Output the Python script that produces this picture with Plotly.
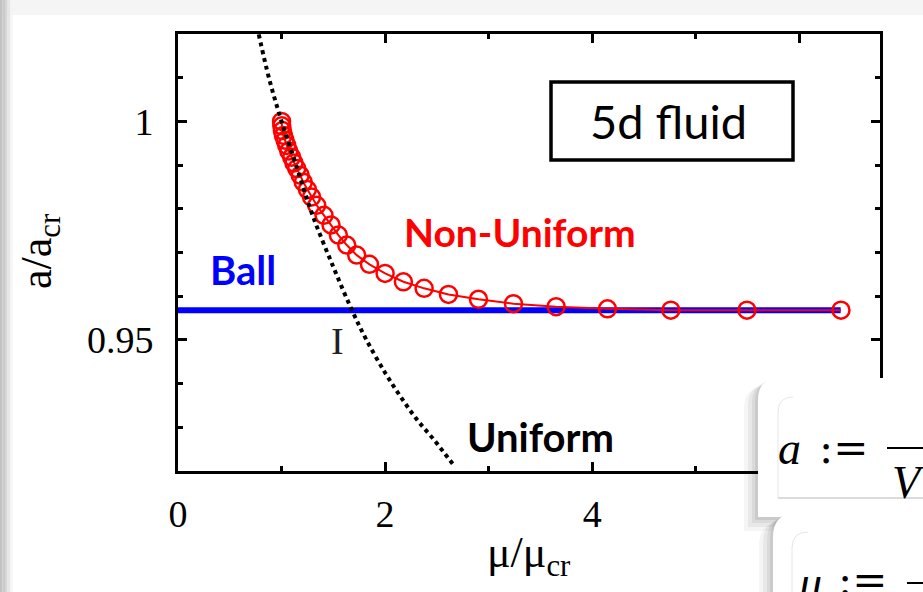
import plotly.graph_objects as go

# ---------------- data ----------------
mu_nonuniform = [1.000, 1.002, 1.008, 1.018, 1.034, 1.050, 1.070, 1.098, 1.120, 1.147,
                 1.180, 1.210, 1.250, 1.290, 1.340, 1.410, 1.478, 1.549, 1.630, 1.726,
                 1.849, 2.000, 2.177, 2.377, 2.612, 2.902, 3.240, 3.652, 4.148, 4.760,
                 5.495, 6.403]
a_nonuniform = [1.0000, 0.9990, 0.9979, 0.9968, 0.9957, 0.9945, 0.9932, 0.9918, 0.9905, 0.9892,
                0.9877, 0.9861, 0.9844, 0.9827, 0.9808, 0.9785, 0.9763, 0.9740, 0.9717, 0.9694,
                0.9673, 0.9652, 0.9633, 0.9618, 0.9604, 0.9593, 0.9583, 0.9576, 0.9571, 0.9568,
                0.9568, 0.9568]

mu_uniform = [0.78, 0.88, 1.00, 1.15, 1.30, 1.50, 1.68, 1.82, 2.00, 2.15, 2.30, 2.47, 2.67]
a_uniform = [1.0199, 1.0098, 1.0000, 0.9893, 0.9785, 0.9667, 0.9568, 0.9500, 0.9425, 0.9370,
             0.9320, 0.9272, 0.9211]

mu_ball = [0.0, 6.4]
a_ball = [0.9568, 0.9568]

x_tick_vals = [0, 2, 4, 6]
x_tick_text = ["0", "2", "4", "6"]
x_minor_vals = [1, 3, 5]
y_tick_vals = [0.95, 1.0]
y_tick_text = ["0.95", "1"]
y_minor_vals = [0.92, 0.93, 0.94, 0.96, 0.97, 0.98, 0.99, 1.01, 1.02]

# ---------------- geometry helpers (pixel -> paper) ----------------
W, H = 923, 592
L, R, T, B = 178, 880, 34, 471


def fx(p):
    return (p - L) / (R - L)


def fy(p):
    return (B - p) / (B - T)


SERIF = "Liberation Serif, Times New Roman, serif"
MATH = "DejaVu Serif, serif"
SANS = "Lato, Open Sans, sans-serif"

fig = go.Figure()

fig.add_trace(go.Scatter(x=mu_ball, y=a_ball, mode="lines",
                         line=dict(color="#0000ff", width=6), showlegend=False,
                         name="Ball"))
fig.add_trace(go.Scatter(x=mu_nonuniform, y=a_nonuniform, mode="lines+markers",
                         line=dict(color="#ff0000", width=2),
                         marker=dict(symbol="circle-open", size=17, color="#ff0000",
                                     line=dict(width=2.5, color="#ff0000")),
                         showlegend=False, name="Non-Uniform"))
fig.add_trace(go.Scatter(x=mu_uniform, y=a_uniform, mode="lines",
                         line=dict(color="black", width=4, dash="4px,4px", shape="spline"),
                         showlegend=False, name="Uniform"))

axis_common = dict(showline=True, linewidth=3, linecolor="black", mirror="ticks",
                   ticks="inside", ticklen=9, tickwidth=3, tickcolor="black",
                   showgrid=False, zeroline=False,
                   tickfont=dict(family=SERIF, size=38, color="black"))

fig.update_xaxes(range=[0, 6.78], tickmode="array", tickvals=x_tick_vals,
                 ticktext=x_tick_text, ticklabelstandoff=7,
                 minor=dict(tickmode="array", tickvals=x_minor_vals, ticks="inside",
                            ticklen=5, tickwidth=3, tickcolor="black"),
                 **axis_common)
fig.update_yaxes(range=[0.92, 1.02], tickmode="array", tickvals=y_tick_vals,
                 ticktext=y_tick_text, ticklabelstandoff=14,
                 minor=dict(tickmode="array", tickvals=y_minor_vals, ticks="inside",
                            ticklen=5, tickwidth=3, tickcolor="black"),
                 **axis_common)

shapes = []
# slide shadow (top and left)
top_cols = ["#bdbdbd", "#c9c9c9", "#d8d8d8", "#e8e8e8", "#f5f5f5"]
for i, col in enumerate(top_cols):
    shapes.append(dict(type="rect", xref="paper", yref="paper", layer="below",
                       x0=fx(0), x1=fx(W), y0=fy(0), y1=fy(3 * (i + 1)),
                       line=dict(width=0), fillcolor=col))
left_cols = ["#c2c2c2", "#cacaca", "#d6d6d6", "#e6e6e6", "#f4f4f4"]
for i, col in enumerate(left_cols):
    shapes.append(dict(type="rect", xref="paper", yref="paper", layer="below",
                       x0=fx(2.5 * i), x1=fx(2.5 * (i + 1)), y0=fy(0), y1=fy(H),
                       line=dict(width=0), fillcolor=col))

# "5d fluid" box
shapes.append(dict(type="rect", xref="paper", yref="paper", layer="above",
                   x0=fx(551), x1=fx(793), y0=fy(82), y1=fy(160),
                   line=dict(color="black", width=3.5), fillcolor="white"))


def rounded_box(x0, y0, x1, y1, r):
    return (f"M {fx(x0)},{fy(y1)} L {fx(x0)},{fy(y0 + r)} "
            f"Q {fx(x0)},{fy(y0)} {fx(x0 + r)},{fy(y0)} "
            f"L {fx(x1)},{fy(y0)} L {fx(x1)},{fy(y1)} Z")


# overlapping formula boxes (bottom right)
for off, a in [(14, 0.04), (10, 0.05), (6, 0.06), (3, 0.07)]:
    shapes.append(dict(type="path", xref="paper", yref="paper", layer="above",
                       path=rounded_box(758 - off, 378 + off * 0.6, 940, 517 + off, 22),
                       line=dict(width=0), fillcolor=f"rgba(0,0,0,{a})"))
shapes.append(dict(type="path", xref="paper", yref="paper", layer="above",
                   path=rounded_box(758, 378, 940, 517, 22),
                   line=dict(width=0), fillcolor="white"))
shapes.append(dict(type="path", xref="paper", yref="paper", layer="above",
                   path=(f"M {fx(778)},{fy(498)} L {fx(778)},{fy(412)} "
                         f"Q {fx(778)},{fy(397)} {fx(793)},{fy(397)}"),
                   line=dict(width=1, color="#e6e6e6")))
shapes.append(dict(type="line", xref="paper", yref="paper", layer="above",
                   x0=fx(778), x1=fx(940), y0=fy(498), y1=fy(498),
                   line=dict(width=1.5, color="#cfcfcf")))
for off, a in [(14, 0.04), (10, 0.05), (6, 0.06), (3, 0.07)]:
    shapes.append(dict(type="path", xref="paper", yref="paper", layer="above",
                       path=rounded_box(773 - off, 513 + off * 0.6, 940, 620, 24),
                       line=dict(width=0), fillcolor=f"rgba(0,0,0,{a})"))
shapes.append(dict(type="path", xref="paper", yref="paper", layer="above",
                   path=rounded_box(773, 513, 940, 620, 24),
                   line=dict(width=0), fillcolor="white"))
shapes.append(dict(type="path", xref="paper", yref="paper", layer="above",
                   path=(f"M {fx(792)},{fy(600)} L {fx(792)},{fy(548)} "
                         f"Q {fx(792)},{fy(532)} {fx(808)},{fy(532)}"),
                   line=dict(width=1, color="#e6e6e6")))
# fraction bars
shapes.append(dict(type="line", xref="paper", yref="paper", layer="above",
                   x0=fx(887), x1=fx(940), y0=fy(448), y1=fy(448),
                   line=dict(width=2, color="black")))
shapes.append(dict(type="line", xref="paper", yref="paper", layer="above",
                   x0=fx(907), x1=fx(940), y0=fy(583), y1=fy(583),
                   line=dict(width=2, color="black")))


def ann(text, x, y, size, color="black", family=SANS, angle=0, **kw):
    return dict(text=text, x=fx(x), y=fy(y), xref="paper", yref="paper",
                showarrow=False, xanchor="center", yanchor="middle",
                textangle=angle, font=dict(family=family, size=size, color=color), **kw)


annotations = [
    ann("<b>Ball</b>", 243, 270, 40, "#0000ff"),
    ann("<b>Non-Uniform</b>", 520, 232, 39, "#ff0000"),
    ann("<b>Uniform</b>", 540, 437, 40, "black"),
    ann("I", 337, 341, 38, "#222222", family=SERIF),
    ann("5d fluid", 668, 121, 47, "black"),
    ann("a/a<sub>cr</sub>", 40, 252, 44, "black", family=SERIF, angle=-90),
    ann("μ/μ<sub>cr</sub>", 528, 555, 44, "black", family=SERIF),
    ann("<i>a</i>", 789, 448, 46, "black", family=SERIF),
    ann(":=", 843, 448, 42, "black", family=MATH),
    ann("<i>V</i>", 908, 482, 46, "black", family=SERIF),
    ann("<i>μ</i>", 810, 582, 46, "black", family=SERIF),
    ann(":=", 862, 580, 42, "black", family=MATH),
]

fig.update_layout(width=W, height=H, autosize=False,
                  margin=dict(l=L, r=W - R, t=T, b=H - B, pad=0),
                  paper_bgcolor="white", plot_bgcolor="white",
                  shapes=shapes, annotations=annotations, showlegend=False)

fig.write_html("out.html", config={"displayModeBar": False},
               post_script="document.body.style.margin='0';document.body.style.overflow='hidden';")
